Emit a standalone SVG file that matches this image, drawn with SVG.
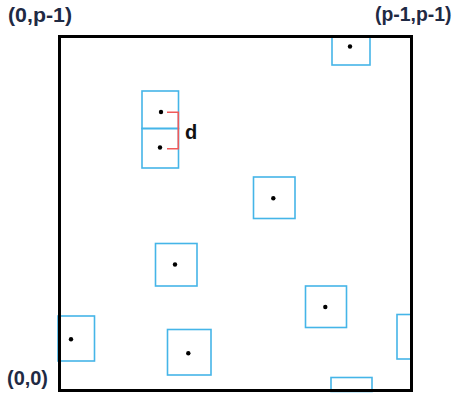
<svg xmlns="http://www.w3.org/2000/svg" width="455" height="393" viewBox="0 0 455 393">
<style>
.cell{fill:none;stroke:#45b5e8;stroke-width:1.6}
.dot{fill:#000}
.lbl{font-family:"Liberation Sans",Arial,sans-serif;font-weight:bold;font-size:19.5px;fill:#1f2a44}
.br{fill:none;stroke:#f05a5a;stroke-width:1.6}
</style>
<rect width="455" height="393" fill="#fff"/>
<g id="cells">
<g id="c1"><rect class="cell" x="332" y="36" width="38" height="29"/><circle class="dot" cx="350" cy="46.5" r="2.2"/></g>
<g id="c2"><rect class="cell" x="142" y="91" width="36.5" height="37.5"/><circle class="dot" cx="161" cy="112" r="2.2"/></g>
<g id="c3"><rect class="cell" x="142" y="128.5" width="36.5" height="39.5"/><circle class="dot" cx="160" cy="147.5" r="2.2"/></g>
<g id="c4"><rect class="cell" x="253.5" y="177" width="41.5" height="41.5"/><circle class="dot" cx="273.3" cy="198.3" r="2.2"/></g>
<g id="c5"><rect class="cell" x="155.5" y="243.5" width="41.5" height="42.5"/><circle class="dot" cx="175" cy="264.5" r="2.2"/></g>
<g id="c6"><rect class="cell" x="305.5" y="286" width="41" height="41.5"/><circle class="dot" cx="325.3" cy="307" r="2.2"/></g>
<g id="c7"><rect class="cell" x="58" y="316" width="36.5" height="45"/><circle class="dot" cx="71" cy="339.3" r="2.2"/></g>
<g id="c8"><rect class="cell" x="167.5" y="329.5" width="43.5" height="45.5"/><circle class="dot" cx="188.3" cy="353.3" r="2.2"/></g>
<g id="c9"><rect class="cell" x="397" y="314.5" width="14" height="44.5"/></g>
<g id="c10"><rect class="cell" x="331" y="377.5" width="41" height="14"/></g>
</g>
<g id="connectors">
<path class="br" d="M167 112.3H178.3V148.7H167"/>
</g>
<g id="grid"><rect x="59.5" y="36.5" width="352" height="354" fill="none" stroke="#000" stroke-width="3"/></g>
<g id="labels">
<text class="lbl" x="8" y="22" textLength="64" lengthAdjust="spacingAndGlyphs">(0,p-1)</text>
<text class="lbl" x="375" y="21" textLength="76.5" lengthAdjust="spacingAndGlyphs">(p-1,p-1)</text>
<text class="lbl" x="7" y="385" textLength="41" lengthAdjust="spacingAndGlyphs">(0,0)</text>
<text class="lbl" x="185" y="138.5" style="fill:#111;font-size:20px">d</text>
</g>
</svg>
